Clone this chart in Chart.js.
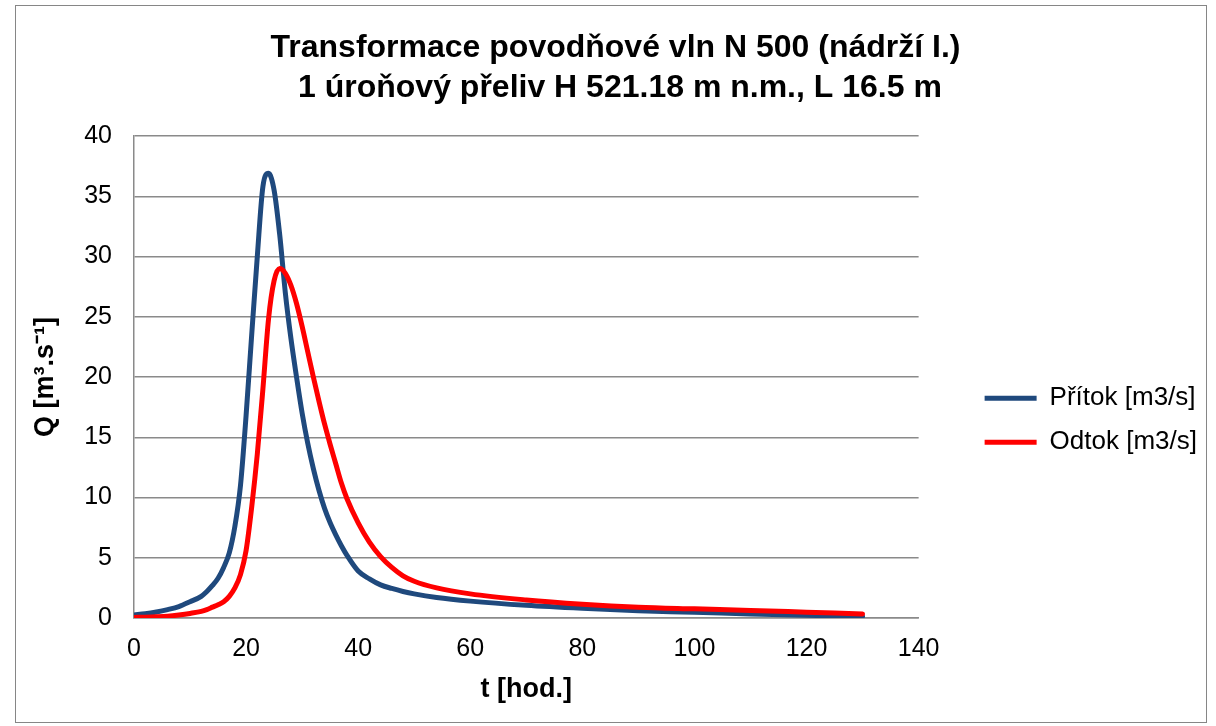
<!DOCTYPE html>
<html>
<head>
<meta charset="utf-8">
<script src="https://cdn.jsdelivr.net/npm/chart.js@4/dist/chart.umd.min.js"></script>
<style>
    body { margin: 0; background: #fff; }
    #wrap { position: relative; width: 1216px; height: 726px; }
    #frame { position: absolute; left: 15px; top: 5px; width: 1190px; height: 716px; border: 1px solid #868686; pointer-events: none; }
</style>
</head>
<body>
<div id="wrap">
    <canvas id="vlnaChart"></canvas>
    <div id="frame"></div>
</div>
<script>
// t [hod.]
const hodiny = [0, 2, 4, 6, 8, 10, 12, 13, 14, 15, 16, 17, 18, 19, 20, 21, 22, 23, 24, 25, 26, 27, 28, 29,
    30, 31, 32, 33, 34, 35, 36, 37, 38, 40, 42, 44, 46, 48, 50, 54, 60, 70, 80, 90, 100, 110, 120, 130];
// Q [m3/s]
const pritok = [0.25, 0.35, 0.5, 0.7, 0.95, 1.35, 1.8, 2.2, 2.7, 3.3, 4.2, 5.4, 7.6, 11.0, 16.8, 23.5, 30.0, 35.8, 36.9, 35.5,
    31.8, 27.0, 23.2, 20.0, 17.0, 14.5, 12.4, 10.6, 9.1, 7.9, 6.9, 6.0, 5.2, 3.9, 3.25, 2.75, 2.45, 2.2, 2.0, 1.7,
    1.4, 1.05, 0.8, 0.6, 0.48, 0.33, 0.22, 0.15];
const odtok = [0.05, 0.07, 0.1, 0.15, 0.25, 0.38, 0.55, 0.7, 0.9, 1.1, 1.35, 1.8, 2.5, 3.6, 5.6, 9.2, 13.6, 19.0, 24.8, 28.0,
    29.0, 28.6, 27.6, 26.1, 24.2, 22.1, 20.0, 18.0, 16.1, 14.4, 12.8, 11.2, 9.9, 7.9, 6.3, 5.1, 4.2, 3.5, 3.05, 2.5,
    2.0, 1.5, 1.15, 0.9, 0.76, 0.63, 0.48, 0.33];

const nazevGrafu = ['Transformace povodňové vln N 500 (nádrží I.)', ' 1 úroňový přeliv H 521.18 m n.m., L 16.5 m'];
const popisy = ['Přítok [m3/s]', 'Odtok [m3/s]'];
const barvy = ['#1F497D', '#FF0000'];
const osaX = 't [hod.]';
const osaY = 'Q [m³.s⁻¹]';

function body(hodnoty) {
    let arr = [];
    for (let i = 0; i < hodiny.length; i++) {
        arr.push({ x: hodiny[i], y: hodnoty[i] });
    }
    return arr;
}

function createChart() {
    Chart.defaults.font.family = "'Liberation Sans', Arial, sans-serif";
    Chart.defaults.color = '#000';
    const gridColor = '#8a8a8a';
    const ctx = document.querySelector('#vlnaChart');
    const data = {
        datasets: [
            {
                label: popisy[0],
                data: body(pritok),
                borderColor: barvy[0],
                backgroundColor: barvy[0],
                borderWidth: 5,
                pointRadius: 0,
                borderCapStyle: 'round',
                borderJoinStyle: 'round',
                cubicInterpolationMode: 'monotone',
                order: 1
            },
            {
                label: popisy[1],
                data: body(odtok),
                borderColor: barvy[1],
                backgroundColor: barvy[1],
                borderWidth: 5,
                pointRadius: 0,
                borderCapStyle: 'round',
                borderJoinStyle: 'round',
                cubicInterpolationMode: 'monotone',
                order: 0
            }
        ]
    };
    const config = {
        type: 'line',
        data: data,
        options: {
            responsive: true,
            maintainAspectRatio: false,
            animation: false,
            layout: { padding: { left: 24, right: 9, top: 0, bottom: 0 } },
            plugins: {
                tooltip: { enabled: false },
                title: {
                    display: true,
                    text: nazevGrafu,
                    color: '#000',
                    font: { size: 32, weight: 'bold', lineHeight: 1.25 },
                    padding: { top: 28, bottom: 28 }
                },
                legend: {
                    position: 'right',
                    maxWidth: 400,
                    title: { display: true, text: '', padding: { top: 100, bottom: 0 } },
                    labels: {
                        usePointStyle: true,
                        pointStyle: 'line',
                        pointStyleWidth: 52,
                        padding: 18,
                        color: '#000',
                        font: { size: 26 },
                        sort: (a, b) => a.datasetIndex - b.datasetIndex
                    }
                }
            },
            scales: {
                x: {
                    type: 'linear',
                    min: 0,
                    max: 140,
                    ticks: { stepSize: 20, font: { size: 25 }, color: '#000', padding: 16 },
                    grid: { display: false, drawTicks: false },
                    border: { display: true, color: gridColor, width: 1.5 },
                    title: { display: true, text: osaX, font: { size: 27, weight: 'bold' }, padding: { top: 20, bottom: 20 } },
                    afterFit: (scale) => { scale.height = 108; }
                },
                y: {
                    min: 0,
                    max: 40,
                    ticks: { stepSize: 5, font: { size: 25 }, color: '#000', padding: 22 },
                    grid: { color: gridColor, lineWidth: 1.5, drawTicks: false },
                    border: { display: true, color: gridColor, width: 1.5 },
                    title: { display: true, text: osaY, font: { size: 27, weight: 'bold' }, padding: { top: 5, bottom: 0 } },
                    afterFit: (scale) => { scale.width = 110; }
                },
                mezera: {
                    position: 'right',
                    display: true,
                    grid: { display: false, drawTicks: false },
                    border: { display: false },
                    ticks: { display: false },
                    afterFit: (scale) => { scale.width = 48; }
                }
            }
        }
    };
    new Chart(ctx, config);
}

createChart();
</script>
</body>
</html>
